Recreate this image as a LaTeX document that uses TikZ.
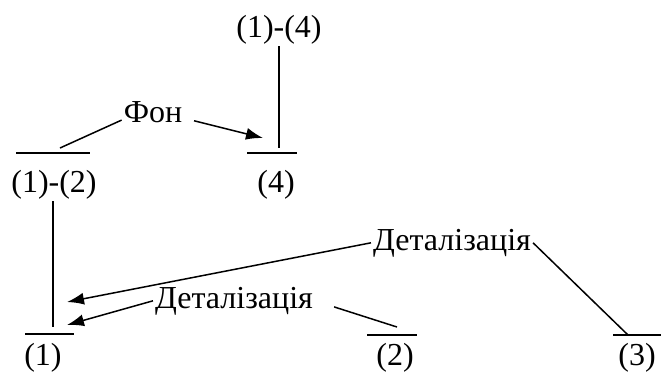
\documentclass[tikz,border=0pt]{standalone}
\usepackage{fontspec}
\setmainfont{Liberation Serif}
\usepackage{tikz}
\usetikzlibrary{arrows.meta}

\begin{document}
\begin{tikzpicture}[
  x=1pt, y=-1pt,
  lbl/.style={inner sep=2pt,anchor=base,font=\fontsize{32}{36}\selectfont},
  ln/.style={line width=1.5pt},
  bar/.style={line width=2pt},
  arr/.style={-{Latex[length=17pt,width=12pt]},line width=1.5pt}
]
\useasboundingbox (0,0) rectangle (661,376);
% levels
\node[lbl] (all) at (279,37) {(1)-(4)};
\node[lbl] (lvl4) at (276,192) {(4)};
\node[lbl] (lvl12) at (54,192) {(1)-(2)};
\node[lbl] (lvl1) at (43,365) {(1)};
\node[lbl] (lvl2) at (395,365) {(2)};
\node[lbl] (lvl3) at (637,365) {(3)};
% relations
\node[lbl] (fon) at (153,122) {Фон};
\node[lbl] (detA) at (452,250) {Деталізація};
\node[lbl] (detB) at (234,308) {Деталізація};
% bars
\draw[bar] (247,153) -- (297,153);
\draw[bar] (16,153) -- (90,153);
\draw[bar] (25,334) -- (74,334);
\draw[bar] (367,335) -- (417,335);
\draw[bar] (613,335) -- (661,335);
% connector ends
\coordinate (e4) at (279,148);
\coordinate (e12) at (60,148);
\coordinate (e1) at (53,327);
\coordinate (e3) at (628,335);
\coordinate (e2) at (397,327);
\coordinate (tip4) at (263,138);
\coordinate (tipA) at (67,302);
\coordinate (tipB) at (67,325);
\draw[ln] (all.south) -- (e4);
\draw[ln] (lvl12.south -| e1) -- (e1);
\draw[ln] (fon.195) -- (e12);
\draw[arr,shorten <=10pt] (fon.-12) -- (tip4);
\draw[arr] (detA.west) -- (tipA);
\draw[ln] (detA.east) -- (e3);
\draw[arr] (detB.west) -- (tipB);
\draw[ln,shorten <=20pt] (detB.east) -- (e2);
\end{tikzpicture}
\end{document}
